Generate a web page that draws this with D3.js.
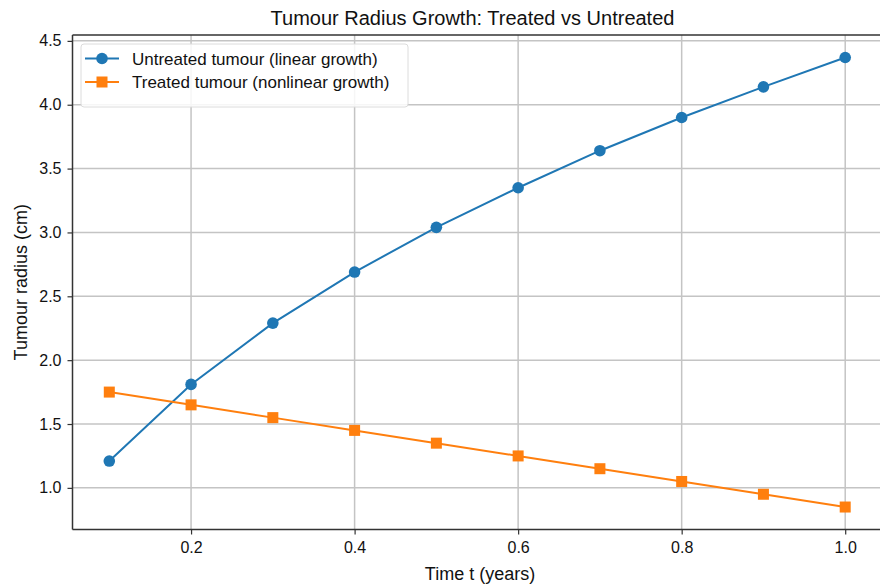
<!DOCTYPE html>
<html><head><meta charset="utf-8">
<script src="https://cdn.jsdelivr.net/npm/d3@7"></script>
<style>
body{margin:0;background:#fff;}
svg{display:block;font-family:"Liberation Sans",Arial,Helvetica,sans-serif;}
</style></head>
<body><svg id="c" width="880" height="588"></svg>
<script>
const times = [0.1,0.2,0.3,0.4,0.5,0.6,0.7,0.8,0.9,1.0];
const untreated = [1.21,1.81,2.29,2.69,3.04,3.35,3.64,3.90,4.14,4.37];
const treated = [1.75,1.65,1.55,1.45,1.35,1.25,1.15,1.05,0.95,0.85];
const xTicks = [0.2,0.4,0.6,0.8,1.0];
const yTicks = [1.0,1.5,2.0,2.5,3.0,3.5,4.0,4.5];
const seriesNames = ["Untreated tumour (linear growth)","Treated tumour (nonlinear growth)"];
const colors = ["#1f77b4","#ff7f0e"];

const svg = d3.select("#c");
const L=72.5, R=882, T=35, B=529.5;
const x = d3.scaleLinear().domain([0.055,1.045]).range([L,R]);
const y = d3.scaleLinear().domain([0.674,4.546]).range([B,T]);

// grid
const g = svg.append("g");
g.selectAll(".gx").data(xTicks).enter().append("line")
 .attr("x1",d=>x(d)).attr("x2",d=>x(d)).attr("y1",T).attr("y2",B)
 .attr("stroke","#c4c4c4").attr("stroke-width",1.5);
g.selectAll(".gy").data(yTicks).enter().append("line")
 .attr("y1",d=>y(d)).attr("y2",d=>y(d)).attr("x1",L).attr("x2",R)
 .attr("stroke","#c4c4c4").attr("stroke-width",1.5);

// axes
const xAxis = d3.axisBottom(x).tickValues(xTicks).tickFormat(d3.format(".1f")).tickSize(5).tickPadding(7);
const yAxis = d3.axisLeft(y).tickValues(yTicks).tickFormat(d3.format(".1f")).tickSize(5).tickPadding(6);
const gx = svg.append("g").attr("transform",`translate(0,${B})`).call(xAxis);
const gy = svg.append("g").attr("transform",`translate(${L},0)`).call(yAxis);
[gx,gy].forEach(a=>{
  a.select(".domain").remove();
  a.selectAll("line").attr("stroke","#333").attr("stroke-width",1.2);
  a.selectAll("text").attr("font-size",16).attr("fill","#111").attr("font-family","Liberation Sans, Arial, sans-serif");
});
// spines
svg.append("line").attr("x1",L).attr("x2",L).attr("y1",T).attr("y2",B).attr("stroke","#333").attr("stroke-width",1.5);
svg.append("line").attr("x1",L).attr("x2",R).attr("y1",B).attr("y2",B).attr("stroke","#333").attr("stroke-width",1.5);
svg.append("line").attr("x1",L).attr("x2",R).attr("y1",T).attr("y2",T).attr("stroke","#333").attr("stroke-width",1.5);

// series
const data = [untreated, treated];
const line = d3.line().x((d,i)=>x(times[i])).y(d=>y(d));
data.forEach((s,k)=>{
  svg.append("path").datum(s).attr("d",line).attr("fill","none").attr("stroke",colors[k]).attr("stroke-width",2);
  if(k===0){
    svg.selectAll(".m0").data(s).enter().append("circle")
      .attr("cx",(d,i)=>x(times[i])).attr("cy",d=>y(d)).attr("r",5.8).attr("fill",colors[k]);
  } else {
    svg.selectAll(".m1").data(s).enter().append("rect")
      .attr("x",(d,i)=>x(times[i])-5.5).attr("y",d=>y(d)-5.5).attr("width",11).attr("height",11).attr("fill",colors[k]);
  }
});

// title and labels
svg.append("text").attr("x",472.5).attr("y",24.5).attr("text-anchor","middle").attr("font-size",20).attr("fill","#111").text("Tumour Radius Growth: Treated vs Untreated");
svg.append("text").attr("x",480).attr("y",580).attr("text-anchor","middle").attr("font-size",18).attr("fill","#111").text("Time t (years)");
svg.append("text").attr("transform",`translate(27,${(T+B)/2}) rotate(-90)`).attr("text-anchor","middle").attr("font-size",18).attr("fill","#111").text("Tumour radius (cm)");

// legend
const lg = svg.append("g");
lg.append("rect").attr("x",81).attr("y",44).attr("width",327).attr("height",63).attr("rx",3)
  .attr("fill","rgba(255,255,255,0.85)").attr("stroke","#dcdcdc").attr("stroke-width",1);
seriesNames.forEach((n,k)=>{
  const yy = 58.5 + k*23.5;
  lg.append("line").attr("x1",85).attr("x2",119).attr("y1",yy).attr("y2",yy).attr("stroke",colors[k]).attr("stroke-width",2);
  if(k===0) lg.append("circle").attr("cx",102).attr("cy",yy).attr("r",5.8).attr("fill",colors[k]);
  else lg.append("rect").attr("x",96.5).attr("y",yy-5.5).attr("width",11).attr("height",11).attr("fill",colors[k]);
  lg.append("text").attr("x",132).attr("y",yy+6).attr("font-size",17).attr("fill","#111").text(n);
});
</script></body></html>
